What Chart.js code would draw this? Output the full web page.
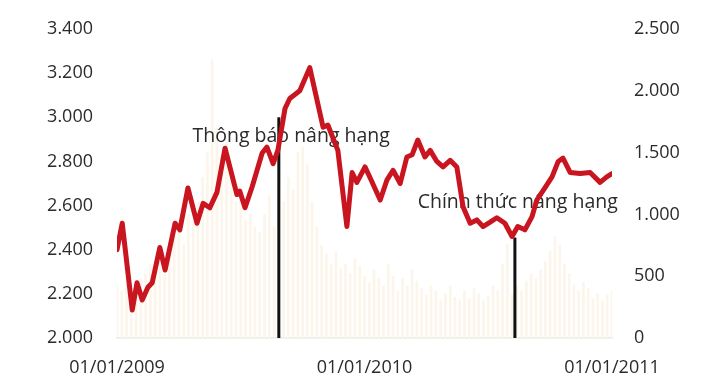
<!DOCTYPE html>
<html>
<head>
<meta charset="utf-8">
<script src="https://cdn.jsdelivr.net/npm/chart.js@4/dist/chart.umd.min.js"></script>
<style>
  body { margin: 0; background: #fff; }
</style>
</head>
<body>
<canvas id="myChart" width="706" height="383"></canvas>
<script>
// x is in weeks from 01/01/2009 (0) to 01/01/2011 (104)
var indexWeeks = [0, 1.1, 3.2, 4.2, 5.3, 6.5, 7.4, 9, 10.1, 12.2, 13.2, 14.9, 16.8, 18.1, 19.5, 21, 22.7,
  25.2, 25.8, 26.9, 28.4, 30.5, 31.5, 32.8, 33.8, 35.3, 36.3, 38.4, 40.5, 43.3, 44.3, 46.4, 48.3, 49.4, 50.4,
  52.1, 53.2, 55.3, 56.7, 58, 59.5, 60.9, 62, 63.2, 64.7, 65.8, 67.2, 68.5, 70, 71.4, 72.7, 74.2, 75.6, 76.9,
  78.4, 79.8, 81.5, 83, 84.2, 85.7, 87.2, 88.2, 89.9, 91.4, 92.7, 93.7, 95.2, 97.3, 99.4, 101.5, 102.9, 104];
var indexValues = [2400, 2520, 2127, 2250, 2172, 2230, 2250, 2410, 2308, 2520, 2490, 2680, 2520, 2610, 2590, 2660, 2860,
  2650, 2665, 2590, 2685, 2838, 2865, 2790, 2850, 3040, 3085, 3120, 3225, 2955, 2965, 2850, 2505, 2750, 2705,
  2775, 2725, 2625, 2715, 2760, 2700, 2820, 2830, 2897, 2820, 2850, 2800, 2775, 2805, 2775, 2595, 2520, 2535, 2505,
  2525, 2545, 2520, 2460, 2505, 2490, 2550, 2625, 2680, 2730, 2800, 2815, 2750, 2745, 2750, 2705, 2730, 2745];

// weekly volume, one bar per week 0..104
var volumeValues = [420, 380, 460, 350, 400, 480,
  520, 600, 450, 650, 580, 700,
  820, 900, 760, 1000, 950, 1100,
  1300, 1500, 2250, 1700, 1400, 1600,
  1300, 1100, 1200, 950, 1000, 900,
  850, 1000, 1150, 900, 1250,
  1100, 1300, 1200, 1500, 1550, 1400,
  1100, 900, 750, 680, 600, 700,
  560, 600, 520, 640, 580, 500,
  450, 550, 480, 420, 600, 500,
  380, 480, 420, 550, 460, 400,
  350, 420, 380, 300, 360, 420,
  330, 300, 380, 320, 400, 360,
  300, 340, 420, 380, 600, 760, 350,
  420, 380, 460, 520, 480, 550,
  620, 700, 820, 750, 600, 520,
  430, 380, 450, 400, 320, 360, 300, 350, 380];

var tickWeeks = [0, 52, 104];
var tickLabels = ['01/01/2009', '01/01/2010', '01/01/2011'];

var eventWeeks = [34, 83.6];
var eventTops = [3000, 2455];
var eventTexts = ['Thông báo nâng hạng', 'Chính thức nâng hạng'];
var eventTextWeeks = [36.6, 84.2];
var eventTextValues = [2915, 2615];

var FONT = '"Open Sans", "Noto Sans", sans-serif';

function dotThousands(v) {
  return String(v).replace(/\B(?=(\d{3})+(?!\d))/g, '.');
}

var lineData = indexWeeks.map(function (w, i) { return { x: w, y: indexValues[i] }; });
var barData = volumeValues.map(function (v, i) { return { x: i, y: v }; });

var eventsPlugin = {
  id: 'events',
  afterDatasetDraw: function (chart, args) {
    if (args.meta.type !== 'bar') return;
    var ctx = chart.ctx;
    var x = chart.scales.x, y = chart.scales.y;
    ctx.save();
    ctx.font = '19.5px ' + FONT;
    ctx.fillStyle = '#2b2b2b';
    ctx.textAlign = 'center';
    ctx.textBaseline = 'middle';
    for (var i = 0; i < eventTexts.length; i++) {
      ctx.fillText(eventTexts[i], x.getPixelForValue(eventTextWeeks[i]), y.getPixelForValue(eventTextValues[i]));
    }
    ctx.strokeStyle = '#111';
    ctx.lineWidth = 3;
    for (var j = 0; j < eventWeeks.length; j++) {
      var px = x.getPixelForValue(eventWeeks[j]);
      ctx.beginPath();
      ctx.moveTo(px, y.getPixelForValue(eventTops[j]));
      ctx.lineTo(px, y.getPixelForValue(2000));
      ctx.stroke();
    }
    ctx.restore();
  }
};

var ctx = document.getElementById('myChart').getContext('2d');
var chart = new Chart(ctx, {
  type: 'bar',
  data: {
    datasets: [{
      type: 'line',
      data: lineData,
      yAxisID: 'y',
      borderColor: '#c9151f',
      borderWidth: 5,
      borderJoinStyle: 'round',
      borderCapStyle: 'round',
      pointRadius: 0,
      tension: 0,
      order: 0
    }, {
      type: 'bar',
      data: barData,
      yAxisID: 'y2',
      backgroundColor: '#fcf5ea',
      barThickness: 2,
      order: 1
    }]
  },
  options: {
    responsive: false,
    animation: false,
    layout: { padding: { top: 29, right: 0, bottom: 0, left: 0 } },
    plugins: { legend: { display: false }, tooltip: { enabled: false } },
    scales: {
      x: {
        type: 'linear',
        min: 0,
        max: 104,
        offset: false,
        grid: { display: false },
        border: { display: true, color: '#e6e6e6', width: 1.5 },
        afterBuildTicks: function (axis) {
          axis.ticks = tickWeeks.map(function (v) { return { value: v }; });
        },
        afterFit: function (axis) { axis.height = 45; },
        ticks: {
          autoSkip: false,
          maxRotation: 0,
          padding: 11,
          color: '#2b2b2b',
          font: { family: FONT, size: 18 },
          callback: function (v) {
            var k = tickWeeks.indexOf(v);
            return k >= 0 ? tickLabels[k] : '';
          }
        }
      },
      y: {
        position: 'left',
        min: 2000,
        max: 3400,
        grid: { display: false },
        border: { display: false },
        afterFit: function (axis) { axis.width = 117; },
        ticks: {
          stepSize: 200,
          padding: 16,
          color: '#2b2b2b',
          font: { family: FONT, size: 18 },
          callback: dotThousands
        }
      },
      y2: {
        position: 'right',
        min: 0,
        max: 2500,
        grid: { display: false },
        border: { display: false },
        afterFit: function (axis) { axis.width = 94; },
        ticks: {
          stepSize: 500,
          padding: 14,
          color: '#2b2b2b',
          font: { family: FONT, size: 18 },
          callback: dotThousands
        }
      }
    }
  },
  plugins: [eventsPlugin]
});
</script>
</body>
</html>
